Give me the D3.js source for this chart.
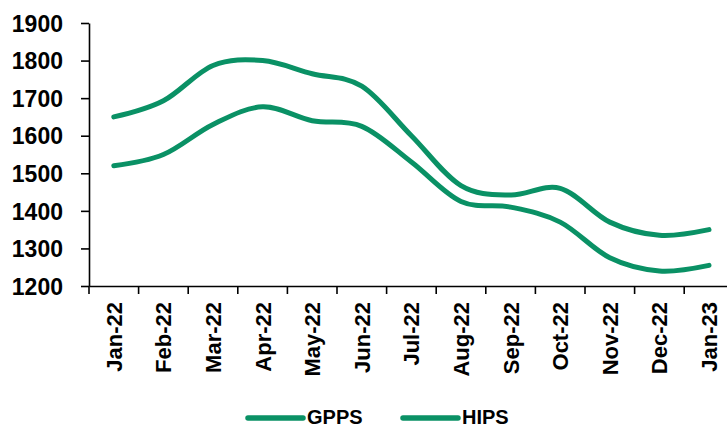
<!DOCTYPE html>
<html>
<head>
<meta charset="utf-8">
<title>GPPS HIPS</title>
<script type="text/javascript" src="https://d3js.org/d3.v7.js"></script>
<style>
  body { margin: 0; background: #fff; }
  text { font-family: "Liberation Sans", Arial, sans-serif; font-weight: bold; fill: #000; }
</style>
</head>
<body>
<script type="text/javascript">
const width = 727;
const height = 428;
const marginTop = 23;
const marginLeft = 89;
const plotBottom = 286;
const bandW = 49.6;

// data
const months = ["Jan-22", "Feb-22", "Mar-22", "Apr-22", "May-22", "Jun-22", "Jul-22",
                "Aug-22", "Sep-22", "Oct-22", "Nov-22", "Dec-22", "Jan-23"];
const gpps = [1520, 1550, 1630, 1677, 1640, 1625, 1530, 1425, 1410, 1370, 1275, 1240, 1255];
const hips = [1650, 1693, 1787, 1800, 1765, 1732, 1600, 1467, 1442, 1460, 1370, 1335, 1350];
const yTicks = [1200, 1300, 1400, 1500, 1600, 1700, 1800, 1900];
const seriesNames = ["GPPS", "HIPS"];
const green = "#0A9165";

const svg = d3.select("body").append("svg")
    .attr("width", width)
    .attr("height", height);

const x = d3.scaleBand().domain(months).range([marginLeft, marginLeft + bandW * months.length]).padding(0);
const y = d3.scaleLinear().domain([1200, 1900]).range([plotBottom, marginTop]);

// y axis
const yAxis = svg.append("g")
    .attr("transform", `translate(${marginLeft},0)`)
    .call(d3.axisLeft(y).tickValues(yTicks).tickFormat(d3.format("d"))
      .tickSize(8).tickSizeOuter(0).tickPadding(18));
yAxis.select(".domain").attr("stroke", "#000").attr("stroke-width", 1.6);
yAxis.selectAll(".tick line").attr("stroke", "#000").attr("stroke-width", 1.6);
yAxis.selectAll(".tick text").style("font-size", "23px").attr("dy", "0.36em");

// x axis (ticks between categories)
const xAxis = svg.append("g")
    .attr("transform", `translate(0,${plotBottom})`)
    .call(d3.axisBottom(x).tickSize(8).tickSizeOuter(0));
xAxis.select(".domain").attr("stroke", "#000").attr("stroke-width", 1.6);
xAxis.selectAll(".tick line")
    .attr("stroke", "#000").attr("stroke-width", 1.6)
    .attr("transform", `translate(${-bandW / 2},0)`);
xAxis.selectAll(".tick text")
    .style("font-size", "22px")
    .attr("text-anchor", "end")
    .attr("transform", "rotate(-90)")
    .attr("x", -16)
    .attr("y", 0)
    .attr("dy", "0.36em");

// lines
const line = d3.line()
    .x((d, i) => x(months[i]) + x.bandwidth() / 2)
    .y(d => y(d))
    .curve(d3.curveCardinal.tension(0));

[gpps, hips].forEach(s => {
  svg.append("path")
    .datum(s)
    .attr("fill", "none")
    .attr("stroke", green)
    .attr("stroke-width", 5)
    .attr("stroke-linecap", "round")
    .attr("d", line);
});

// legend
const legendX = [248, 403];
const legend = svg.append("g");
seriesNames.forEach((name, i) => {
  legend.append("line")
    .attr("x1", legendX[i]).attr("x2", legendX[i] + 55)
    .attr("y1", 418).attr("y2", 418)
    .attr("stroke", green).attr("stroke-width", 5.5)
    .attr("stroke-linecap", "round");
  legend.append("text")
    .attr("x", legendX[i] + 59)
    .attr("y", 424)
    .style("font-size", "20px")
    .text(name);
});
</script>
</body>
</html>
